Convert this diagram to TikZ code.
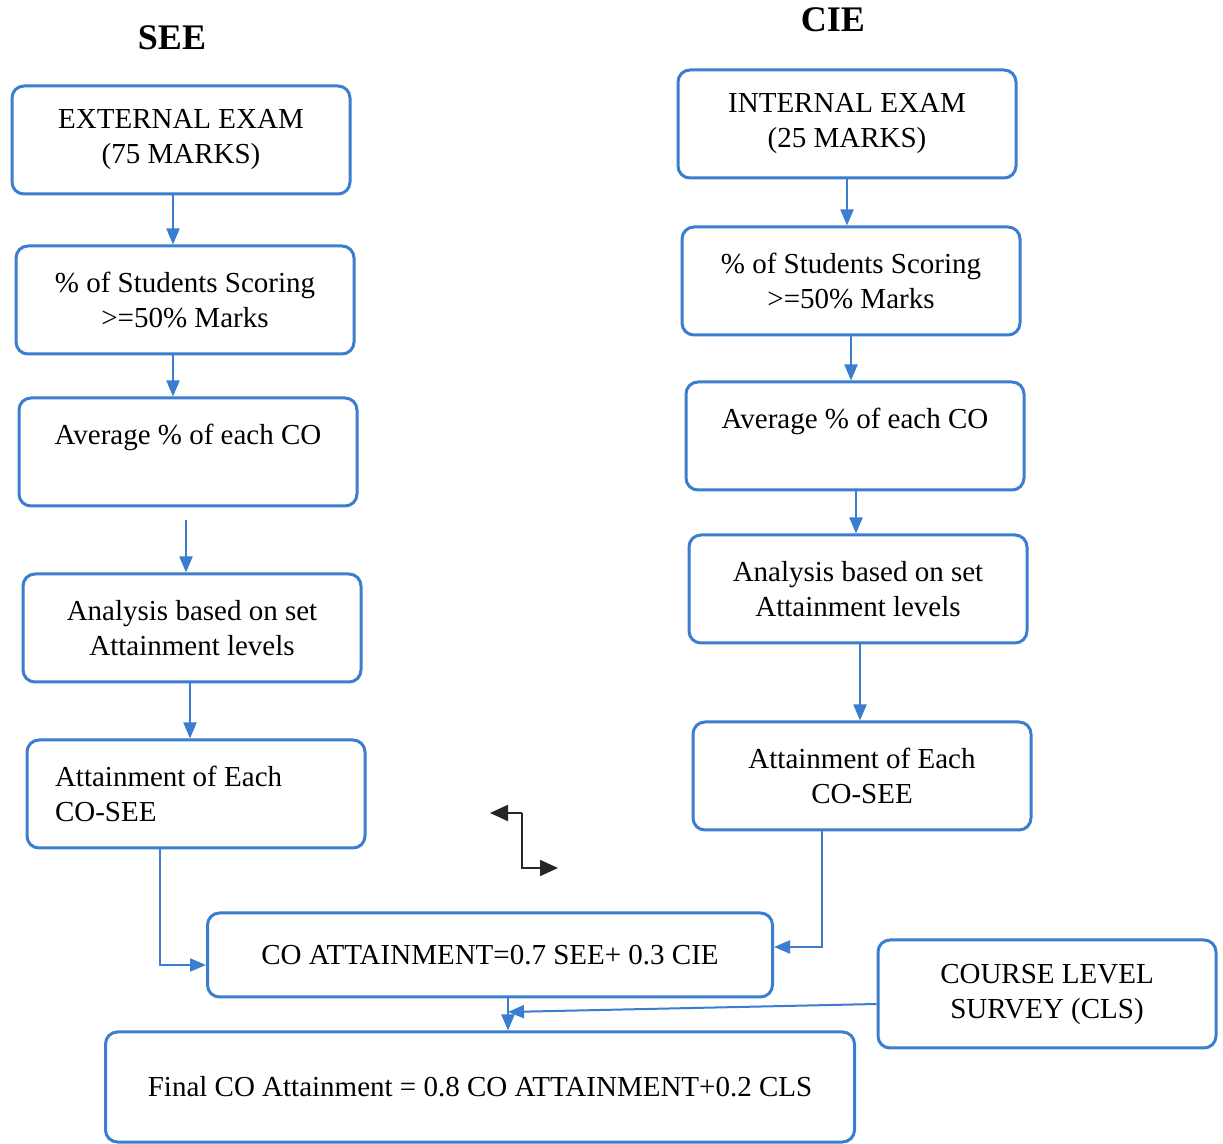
\documentclass[tikz,border=0pt]{standalone}
\usepackage{fontspec}
\setmainfont{Liberation Serif}
\usetikzlibrary{arrows.meta}
\definecolor{boxblue}{RGB}{59,125,206}

\begin{document}
\begin{tikzpicture}[x=0.5pt,y=-0.5pt]
\tikzstyle{every node}+=[font=\fontsize{14.5}{17.5}\selectfont]
\tikzstyle{box}=[draw=boxblue, line width=1.5pt, rounded corners=6pt, minimum width=169pt, minimum height=54pt, align=center, inner sep=0pt]
\tikzstyle{title}=[font=\fontsize{18}{20}\selectfont\bfseries]
\tikzstyle{flow}=[draw=boxblue, line width=1pt, -{Triangle[length=8pt,width=6.5pt]}]
\tikzstyle{stray}=[draw=black!85, line width=1pt, -{Triangle[length=9pt,width=8pt]}]
\useasboundingbox (0,0) rectangle (1223,1144);
\node [title] (see) at (172,38) {SEE};
\node [title] (cie) at (833,20) {CIE};
\node [box] (ext) at (181,140) {EXTERNAL EXAM\\(75 MARKS)};
\node [box] (stuL) at (185,300) {\% of Students Scoring\\>=50\% Marks};
\node [box] (avgL) at (188,452) {Average \% of each CO\\\mbox{}};
\node [box] (anaL) at (192,628) {Analysis based on set\\Attainment levels};
\node [box, text width=141pt, align=flush left] (attL) at (196,794) {Attainment of Each\\CO-SEE};
\node [box] (int) at (847,124) {INTERNAL EXAM\\(25 MARKS)};
\node [box] (stuR) at (851,281) {\% of Students Scoring\\>=50\% Marks};
\node [box] (avgR) at (855,436) {Average \% of each CO\\\mbox{}};
\node [box] (anaR) at (858,589) {Analysis based on set\\Attainment levels};
\node [box] (attR) at (862,776) {Attainment of Each\\CO-SEE};
\node [box, minimum width=282.5pt, minimum height=42pt] (coatt) at (490,955) {CO ATTAINMENT=0.7 SEE+ 0.3 CIE};
\node [box] (cls) at (1047,994) {COURSE LEVEL\\SURVEY (CLS)};
\node [box, minimum width=374.5pt, minimum height=55pt] (final) at (480,1087) {Final CO Attainment = 0.8 CO ATTAINMENT+0.2 CLS};
\coordinate (merge) at (508,1012);
\coordinate (kL) at (490,813);
\coordinate (kT) at (522,813);
\coordinate (kB) at (522,868);
\coordinate (kR) at (558,868);
\draw [flow] (ext.south -| 173,0) -- (stuL.north -| 173,0);
\draw [flow] (stuL.south -| 173,0) -- (avgL.north -| 173,0);
\draw [flow] (186,520) -- (anaL.north -| 186,0);
\draw [flow] (anaL.south -| 190,0) -- (attL.north -| 190,0);
\draw [flow] (attL.south -| 160,0) |- (coatt.west |- 0,965);
\draw [flow] (int.south -| 847,0) -- (stuR.north -| 847,0);
\draw [flow] (stuR.south -| 851,0) -- (avgR.north -| 851,0);
\draw [flow] (avgR.south -| 856,0) -- (anaR.north -| 856,0);
\draw [flow] (anaR.south -| 860,0) -- (attR.north -| 860,0);
\draw [flow] (attR.south -| 822,0) |- (coatt.east |- 0,947);
\draw [flow] (cls.west |- 0,1004) -- (merge);
\draw [flow] (coatt.south -| merge) -- (final.north -| merge);
\draw [stray] (kT) -- (kL);
\draw [stray] (kT) -- (kB) -- (kR);
\end{tikzpicture}
\end{document}
